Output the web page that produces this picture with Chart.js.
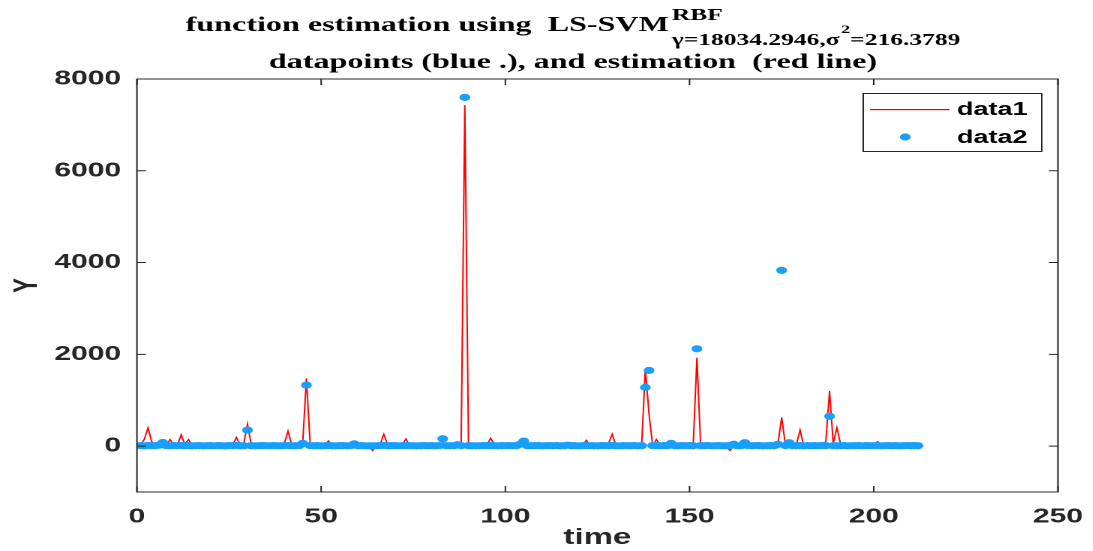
<!DOCTYPE html>
<html>
<head>
<meta charset="utf-8">
<script src="https://cdn.jsdelivr.net/npm/chart.js@4.4.1/dist/chart.umd.min.js"></script>
<style>
html, body { margin: 0; padding: 0; background: #fff; overflow: hidden; }
/* the original figure is stretched sideways, so the whole chart is too */
#wrap { width: 729px; height: 551px; transform: scaleX(1.5); transform-origin: 0 0; }
</style>
</head>
<body>
<div id="wrap"><canvas id="chart" width="729" height="551"></canvas></div>
<script>
const xTicks = [0, 50, 100, 150, 200, 250];
const yTicks = [0, 2000, 4000, 6000, 8000];

// datapoints (blue), t = 1..212
const dataPoints = [
    10, 5, 15, 8, 12, 20, 80, 10, 6, 12,
    8, 15, 10, 12, 5, 8, 10, 6, 9, 12,
    7, 10, 8, 5, 12, 10, 15, 9, 8, 350,
    10, 6, 8, 12, 9, 7, 10, 8, 6, 12,
    15, 9, 8, 10, 60, 1330, 12, 8, 10, 6,
    9, 14, 8, 7, 10, 12, 6, 9, 50, 8,
    10, 7, 6, 5, 9, 12, 15, 8, 10, 12,
    7, 9, 14, 10, 8, 6, 9, 12, 8, 10,
    7, 12, 160, 9, 8, 10, 30, 12, 7600, 10,
    8, 6, 9, 12, 10, 14, 8, 7, 10, 9,
    12, 8, 10, 40, 110, 9, 8, 12, 10, 7,
    9, 10, 8, 12, 6, 9, 20, 10, 8, 7,
    10, 12, 9, 8, 6, 10, 12, 9, 14, 8,
    7, 10, 9, 8, 12, 6, 10, 1280, 1650, 10,
    12, 8, 9, 10, 60, 8, 7, 12, 9, 10,
    8, 2120, 10, 9, 12, 7, 8, 10, 6, 9,
    12, 40, 8, 10, 75, 9, 8, 12, 10, 7,
    9, 10, 8, 40, 3830, 12, 75, 9, 8, 10,
    7, 12, 9, 10, 8, 12, 10, 650, 9, 8,
    10, 12, 7, 9, 8, 10, 6, 12, 9, 8,
    10, 7, 9, 12, 8, 10, 6, 9, 12, 8,
    10, 8
];

// LS-SVM estimation (red line)
const estimation = [
    20, 150, 400, 100, 0, -10, -30, 20, 145, 10,
    30, 246, 40, 145, 10, 0, 5, -5, 10, 0,
    5, 0, 10, -5, 0, 20, 190, 30, 60, 480,
    40, 0, 10, 5, -5, 0, 10, 0, 20, 60,
    327, 30, 0, 10, 80, 1475, 60, 0, 10, 5,
    20, 115, 10, 0, 5, 10, 0, 5, 40, 10,
    0, 5, -20, -100, 0, 30, 260, 40, 0, 20,
    5, 20, 160, 10, 0, 5, 10, 0, 5, 10,
    0, 30, 80, 10, 0, 5, 20, 20, 7430, 10,
    0, 10, 5, 0, 20, 175, 30, 0, 10, 5,
    0, 10, 20, 30, 60, 10, 0, 5, 80, 10,
    0, 5, 10, 0, 5, 10, 20, 5, 0, 10,
    20, 130, 10, 0, 5, 10, 30, 60, 260, 20,
    0, 10, 5, 0, 10, 5, 30, 1690, 700, 0,
    145, 10, 0, 5, 40, 10, 0, 5, 10, 20,
    40, 1925, 40, 0, 10, 5, 0, 10, 5, -20,
    -100, 20, 10, 0, 40, 10, 5, 0, 10, 5,
    10, 0, 20, 60, 625, 40, 60, 10, 40, 350,
    10, 0, 5, 10, 20, 40, 100, 1200, 60, 400,
    40, 0, 10, 5, 0, 10, 20, 5, 40, 10,
    100, 10, 0, 5, 10, 0, 5, 10, 0, 5,
    10, 5
];

const time = dataPoints.map((v, i) => i + 1);

const titleMain = 'function estimation using  LS-SVM';
const titleSup = 'RBF';
const titleSubA = '\u03B3=18034.2946,\u03C3';
const titleSubPow = '2';
const titleSubB = '=216.3789';
const titleLine2 = 'datapoints (blue .), and estimation  (red line)';

const RED = '#ff0000';
const BLUE = '#17a0fa';
const AXIS = '#262626';

// box round the axes with inward ticks, like matlab
const axesBox = {
    id: 'axesBox',
    afterDatasetsDraw(chart) {
        const {ctx, chartArea: a, scales} = chart;
        ctx.save();
        ctx.strokeStyle = AXIS;
        ctx.lineWidth = 1;
        ctx.strokeRect(a.left, a.top, a.right - a.left, a.bottom - a.top);
        ctx.beginPath();
        xTicks.forEach(v => {
            const px = scales.x.getPixelForValue(v);
            ctx.moveTo(px, a.bottom); ctx.lineTo(px, a.bottom - 6);
            ctx.moveTo(px, a.top); ctx.lineTo(px, a.top + 6);
        });
        yTicks.forEach(v => {
            const py = scales.y.getPixelForValue(v);
            ctx.moveTo(a.left, py); ctx.lineTo(a.left + 6, py);
            ctx.moveTo(a.right, py); ctx.lineTo(a.right - 6, py);
        });
        ctx.stroke();
        ctx.restore();
    }
};

// two line title with super/subscript
const titleBlock = {
    id: 'titleBlock',
    afterDraw(chart) {
        const ctx = chart.ctx;
        const cx = 382;
        ctx.save();
        ctx.fillStyle = '#000';
        ctx.textBaseline = 'alphabetic';
        ctx.textAlign = 'left';

        const bigFont = 'bold 21.4px "Liberation Serif"';
        const smallFont = 'bold 17px "Liberation Serif"';
        const tinyFont = 'bold 12px "Liberation Serif"';

        ctx.font = bigFont;
        const w1 = ctx.measureText(titleMain).width;
        ctx.font = smallFont;
        const wSup = ctx.measureText(titleSup).width;
        const wA = ctx.measureText(titleSubA).width;
        const wB = ctx.measureText(titleSubB).width;
        ctx.font = tinyFont;
        const wPow = ctx.measureText(titleSubPow).width;
        const total = w1 + 2 + Math.max(wSup, wA + wPow + wB + 1);
        let x = cx - total / 2;

        ctx.font = bigFont;
        ctx.fillText(titleMain, x, 31);
        x += w1 + 2;
        ctx.font = smallFont;
        ctx.fillText(titleSup, x, 20);
        ctx.fillText(titleSubA, x, 45);
        ctx.font = tinyFont;
        ctx.fillText(titleSubPow, x + wA + 1, 33);
        ctx.font = smallFont;
        ctx.fillText(titleSubB, x + wA + wPow + 1, 45);

        ctx.font = bigFont;
        ctx.textAlign = 'center';
        ctx.fillText(titleLine2, cx, 68);
        ctx.restore();
    }
};

// legend box in the top right corner of the axes
const legendBox = {
    id: 'legendBox',
    afterDraw(chart) {
        const ctx = chart.ctx;
        const ds = chart.data.datasets;
        ctx.save();
        ctx.fillStyle = '#fff';
        ctx.fillRect(575, 93, 120, 59);
        ctx.strokeStyle = AXIS;
        ctx.lineWidth = 1;
        ctx.strokeRect(575.5, 93.5, 119, 58);

        // line sample for data1
        ctx.fillStyle = RED;
        ctx.fillRect(580, 109, 53, 1.2);

        ctx.fillStyle = BLUE;
        ctx.beginPath();
        ctx.arc(603.5, 137, 3.6, 0, Math.PI * 2);
        ctx.fill();

        ctx.fillStyle = '#000';
        ctx.font = 'bold 18px "Liberation Sans"';
        ctx.textBaseline = 'middle';
        ctx.fillText(ds[0].label, 638, 110);
        ctx.fillText(ds[1].label, 638, 138);
        ctx.restore();
    }
};

const tickFont = { family: '"Liberation Sans", Arial, sans-serif', size: 20, weight: 'bold' };
const labelFont = { family: '"Liberation Sans", Arial, sans-serif', size: 22, weight: 'bold' };

new Chart(document.getElementById('chart'), {
    type: 'scatter',
    data: {
        datasets: [{
            label: 'data1',
            data: time.map((t, i) => ({ x: t, y: estimation[i] })),
            showLine: true,
            borderColor: RED,
            backgroundColor: RED,
            borderWidth: 1,
            pointRadius: 0,
            order: 2
        }, {
            label: 'data2',
            data: time.map((t, i) => ({ x: t, y: dataPoints[i] })),
            showLine: false,
            borderColor: BLUE,
            backgroundColor: BLUE,
            pointBackgroundColor: BLUE,
            pointBorderWidth: 0,
            pointRadius: 3.6,
            order: 1
        }]
    },
    options: {
        responsive: false,
        animation: false,
        devicePixelRatio: 2,
        events: [],
        layout: { padding: { top: 79, right: 23.7, left: 0, bottom: 0 } },
        plugins: {
            legend: { display: false },
            title: { display: false },
            tooltip: { enabled: false }
        },
        scales: {
            x: {
                type: 'linear',
                min: 0,
                max: 250,
                afterBuildTicks: s => { s.ticks = xTicks.map(v => ({ value: v })); },
                afterFit: s => { s.height = 59; s.paddingLeft = 0; s.paddingRight = 0; },
                grid: { display: false, drawTicks: false },
                border: { display: false },
                ticks: { font: tickFont, color: AXIS, padding: 13, maxRotation: 0, callback: v => String(v) },
                title: { display: true, text: 'time', font: labelFont, color: AXIS, padding: { top: 0, bottom: 0 } }
            },
            y: {
                type: 'linear',
                min: -1000,
                max: 8000,
                afterBuildTicks: s => { s.ticks = yTicks.map(v => ({ value: v })); },
                afterFit: s => { s.width = 91.3; s.paddingTop = 0; s.paddingBottom = 0; },
                grid: { display: false, drawTicks: false },
                border: { display: false },
                ticks: { font: tickFont, color: AXIS, padding: 10.6, callback: v => String(v) },
                title: { display: true, text: 'Y', font: labelFont, color: AXIS, padding: { top: 5, bottom: 0 } }
            }
        }
    },
    plugins: [axesBox, titleBlock, legendBox]
});
</script>
</body>
</html>
